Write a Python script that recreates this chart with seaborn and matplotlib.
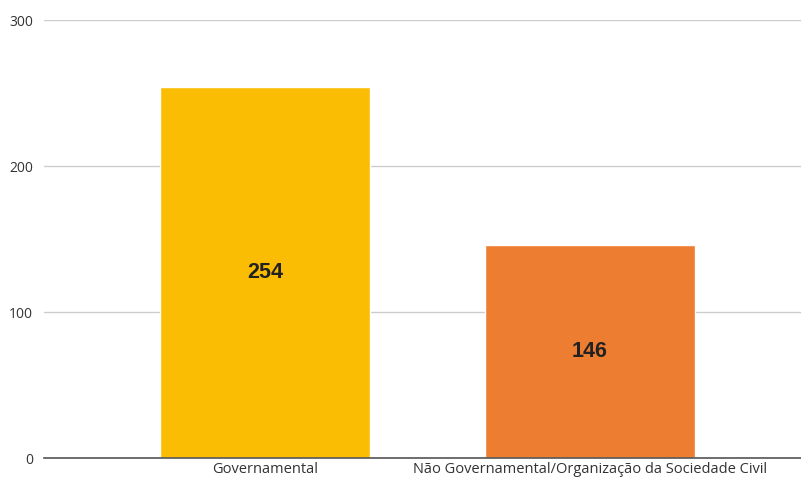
import matplotlib
matplotlib.use("Agg")
import matplotlib.pyplot as plt
import seaborn as sns
import pandas as pd

categories = ["Governamental", "Não Governamental/Organização da Sociedade Civil"]
values = [254, 146]
colors = ["#FBBC04", "#ED7D31"]
yticks = [0, 100, 200, 300]

sns.set_theme(style="white")
plt.rcParams['font.family'] = ['Open Sans', 'DejaVu Sans']

fig = plt.figure(figsize=(8.01, 4.80), dpi=100)
ax = fig.add_axes([44/801, 1 - 458/480, 1 - 44/801, (458 - 20)/480])

df = pd.DataFrame({"cat": categories, "val": values})
sns.barplot(data=df, x="cat", y="val", hue="cat", palette=colors, width=0.646,
            legend=False, ax=ax, saturation=1)

ax.set_xlim(-0.68, 1.649)
ax.set_ylim(0, 300)
ax.set_yticks(yticks)
ax.set_yticklabels([str(t) for t in yticks], fontsize=10, color="#333333")
ax.tick_params(axis='y', length=0, pad=8)
ax.tick_params(axis='x', length=0, pad=3, labelsize=10.5, colors="#333333")
ax.set_xlabel("")
ax.set_ylabel("")
for s in ["top", "right", "left"]:
    ax.spines[s].set_visible(False)
ax.spines["bottom"].set_color("#555555")
ax.spines["bottom"].set_linewidth(1.2)
ax.yaxis.grid(True, color="#cccccc", linewidth=1)
ax.set_axisbelow(True)

for i, v in enumerate(values):
    ax.text(i, v / 2, str(v), ha="center", va="center", fontsize=15.5,
            fontweight="bold", color="#222222", family="Liberation Sans")

fig.savefig("out.png", dpi=100)
